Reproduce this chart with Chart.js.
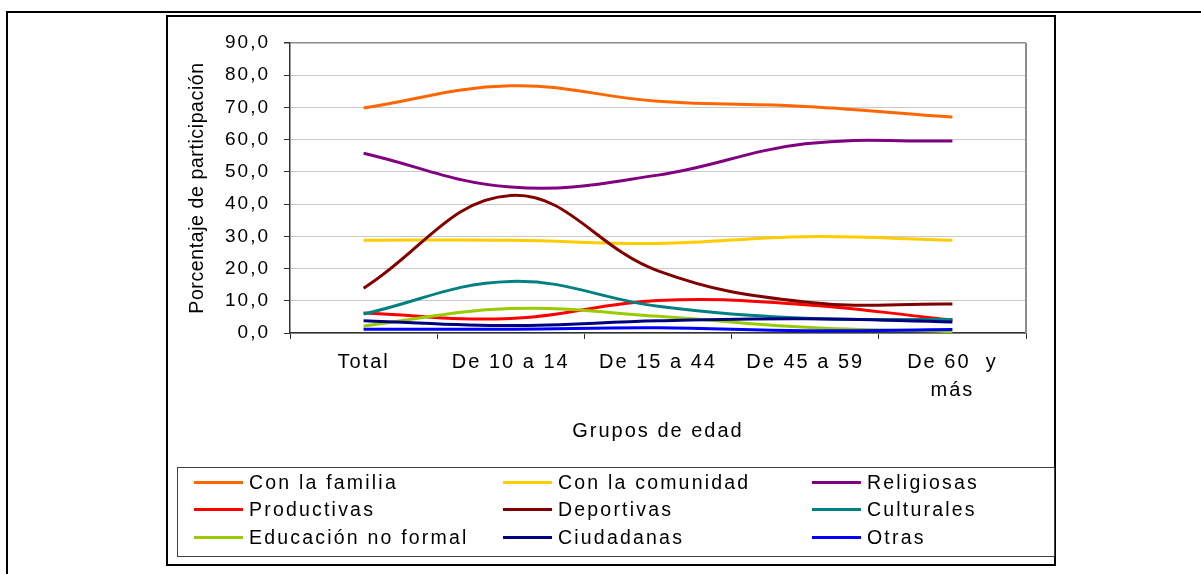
<!DOCTYPE html>
<html>
<head>
<meta charset="utf-8">
<title>Participación por grupos de edad</title>
<script src="https://cdn.jsdelivr.net/npm/chart.js@4/dist/chart.umd.min.js"></script>
<style>
    html, body { margin: 0; padding: 0; background: #fff; }
    body { width: 1201px; height: 574px; position: relative; overflow: hidden; font-family: 'Liberation Sans', Arial, sans-serif; }
    #outerFrame { position: absolute; left: 6px; top: 11px; width: 1300px; height: 700px; border-top: 2px solid #000; border-left: 2px solid #000; }
    #chartFrame { position: absolute; left: 166px; top: 15px; width: 890px; height: 551px; box-sizing: border-box; border: 2px solid #000; }
    #chartCanvas { position: absolute; left: 0; top: 0; }
    #legendBox { position: absolute; left: 177px; top: 467px; width: 878px; height: 90px; box-sizing: border-box; border: 1px solid #404040; }
    .legend-item { position: absolute; height: 26px; display: flex; align-items: center; font-size: 19.5px; letter-spacing: 2.2px; color: #000; white-space: nowrap; }
    .legend-swatch { width: 49px; height: 3px; margin-right: 6px; }
</style>
</head>
<body>
<div id="outerFrame"></div>
<div id="chartFrame"></div>
<canvas id="chartCanvas" width="1201" height="574"></canvas>
<div id="legendBox"></div>
<script>
// Data
const ageGroups = ['Total', 'De 10 a 14', 'De 15 a 44', 'De 45 a 59', ['De 60  y', 'más']];

const conLaFamilia = [69.8, 76.7, 71.9, 70.3, 67.0];
const conLaComunidad = [28.8, 28.8, 27.8, 29.9, 28.8];
const religiosas = [55.8, 45.3, 49.0, 58.7, 59.6];
const productivas = [6.2, 4.5, 10.1, 8.8, 4.0];
const deportivas = [13.9, 42.7, 19.3, 9.6, 9.0];
const culturales = [5.9, 16.0, 8.3, 4.6, 4.2];
const educacionNoFormal = [2.2, 7.6, 5.2, 1.8, 0.4];
const ciudadanas = [3.8, 2.3, 3.8, 4.4, 3.4];
const otras = [1.2, 1.2, 1.6, 0.7, 1.1];

const yTicks = [0, 10, 20, 30, 40, 50, 60, 70, 80, 90];

const series = [
    { label: 'Con la familia', data: conLaFamilia, color: '#FF6600' },
    { label: 'Con la comunidad', data: conLaComunidad, color: '#FFCC00' },
    { label: 'Religiosas', data: religiosas, color: '#800080' },
    { label: 'Productivas', data: productivas, color: '#FF0000' },
    { label: 'Deportivas', data: deportivas, color: '#800000' },
    { label: 'Culturales', data: culturales, color: '#008080' },
    { label: 'Educación no formal', data: educacionNoFormal, color: '#99CC00' },
    { label: 'Ciudadanas', data: ciudadanas, color: '#000080' },
    { label: 'Otras', data: otras, color: '#0000FF' }
];

const FONT = "'Liberation Sans', Arial, sans-serif";

// Excel-like wide text spacing; the rotated y title is tighter
const textSpacing = {
    id: 'textSpacing',
    beforeLayout(chart) { chart.ctx.letterSpacing = '2px'; },
    beforeDraw(chart) { chart.ctx.letterSpacing = '2px'; },
    afterLayout(chart) {
        const yScale = chart.scales.y;
        if (yScale && !yScale._titlePatched) {
            const drawTitle = yScale.drawTitle;
            yScale.drawTitle = function () {
                const prev = this.ctx.letterSpacing;
                this.ctx.letterSpacing = '0.6px';
                drawTitle.call(this);
                this.ctx.letterSpacing = prev;
            };
            yScale._titlePatched = true;
        }
    }
};

// Gray right edge of the plot area
const plotBorder = {
    id: 'plotBorder',
    beforeDatasetsDraw(chart) {
        const { ctx, chartArea } = chart;
        ctx.save();
        ctx.strokeStyle = '#8c8c8c';
        ctx.lineWidth = 2;
        ctx.beginPath();
        ctx.moveTo(chartArea.right, chartArea.top);
        ctx.lineTo(chartArea.right, chartArea.bottom);
        ctx.stroke();
        ctx.restore();
    }
};

const chart = new Chart(document.getElementById('chartCanvas'), {
    type: 'line',
    data: {
        labels: ageGroups,
        datasets: series.map((s, i) => ({
            label: s.label,
            data: s.data,
            borderColor: s.color,
            backgroundColor: s.color,
            borderWidth: 3,
            pointRadius: 0,
            tension: 0.4,
            fill: false,
            order: series.length - 1 - i
        }))
    },
    options: {
        responsive: false,
        animation: false,
        layout: { padding: { left: 186, top: 43, right: 175, bottom: 131 } },
        plugins: {
            legend: { display: false },
            tooltip: { enabled: false }
        },
        scales: {
            x: {
                offset: true,
                afterFit: function (scale) { scale.height = 110; },
                grid: {
                    offset: true,
                    drawOnChartArea: false,
                    tickLength: 6,
                    tickColor: '#333'
                },
                border: { color: '#333', width: 1.5 },
                ticks: {
                    color: '#000',
                    padding: 9,
                    maxRotation: 0,
                    autoSkip: false,
                    font: { family: FONT, size: 20, lineHeight: 1.4 }
                },
                title: {
                    display: true,
                    text: 'Grupos de edad',
                    color: '#000',
                    padding: 0,
                    font: { family: FONT, size: 20 }
                }
            },
            y: {
                min: 0,
                max: 90,
                afterFit: function (scale) { scale.width = 104; },
                afterBuildTicks: function (scale) {
                    scale.ticks = yTicks.map(v => ({ value: v }));
                },
                grid: {
                    color: ctx => (ctx.tick && ctx.tick.value === 90) ? '#8c8c8c' : '#c8c8c8',
                    lineWidth: ctx => (ctx.tick && ctx.tick.value === 90) ? 1.5 : 1,
                    tickLength: 6,
                    tickColor: '#333'
                },
                border: { color: '#333', width: 1.5 },
                ticks: {
                    color: '#000',
                    padding: 14,
                    font: { family: FONT, size: 19 },
                    callback: v => v.toFixed(1).replace('.', ',')
                },
                title: {
                    display: true,
                    text: 'Porcentaje de participación',
                    color: '#000',
                    padding: 0,
                    font: { family: FONT, size: 19.5 }
                }
            }
        }
    },
    plugins: [textSpacing, plotBorder]
});

// Legend box, three columns, built from the chart's datasets
const legendBox = document.getElementById('legendBox');
chart.data.datasets.forEach((ds, i) => {
    const item = document.createElement('div');
    item.className = 'legend-item';
    item.style.left = (16 + (i % 3) * 309) + 'px';
    item.style.top = (1 + Math.floor(i / 3) * 27.5) + 'px';
    const swatch = document.createElement('span');
    swatch.className = 'legend-swatch';
    swatch.style.background = ds.borderColor;
    const text = document.createElement('span');
    text.textContent = ds.label;
    item.appendChild(swatch);
    item.appendChild(text);
    legendBox.appendChild(item);
});
</script>
</body>
</html>
